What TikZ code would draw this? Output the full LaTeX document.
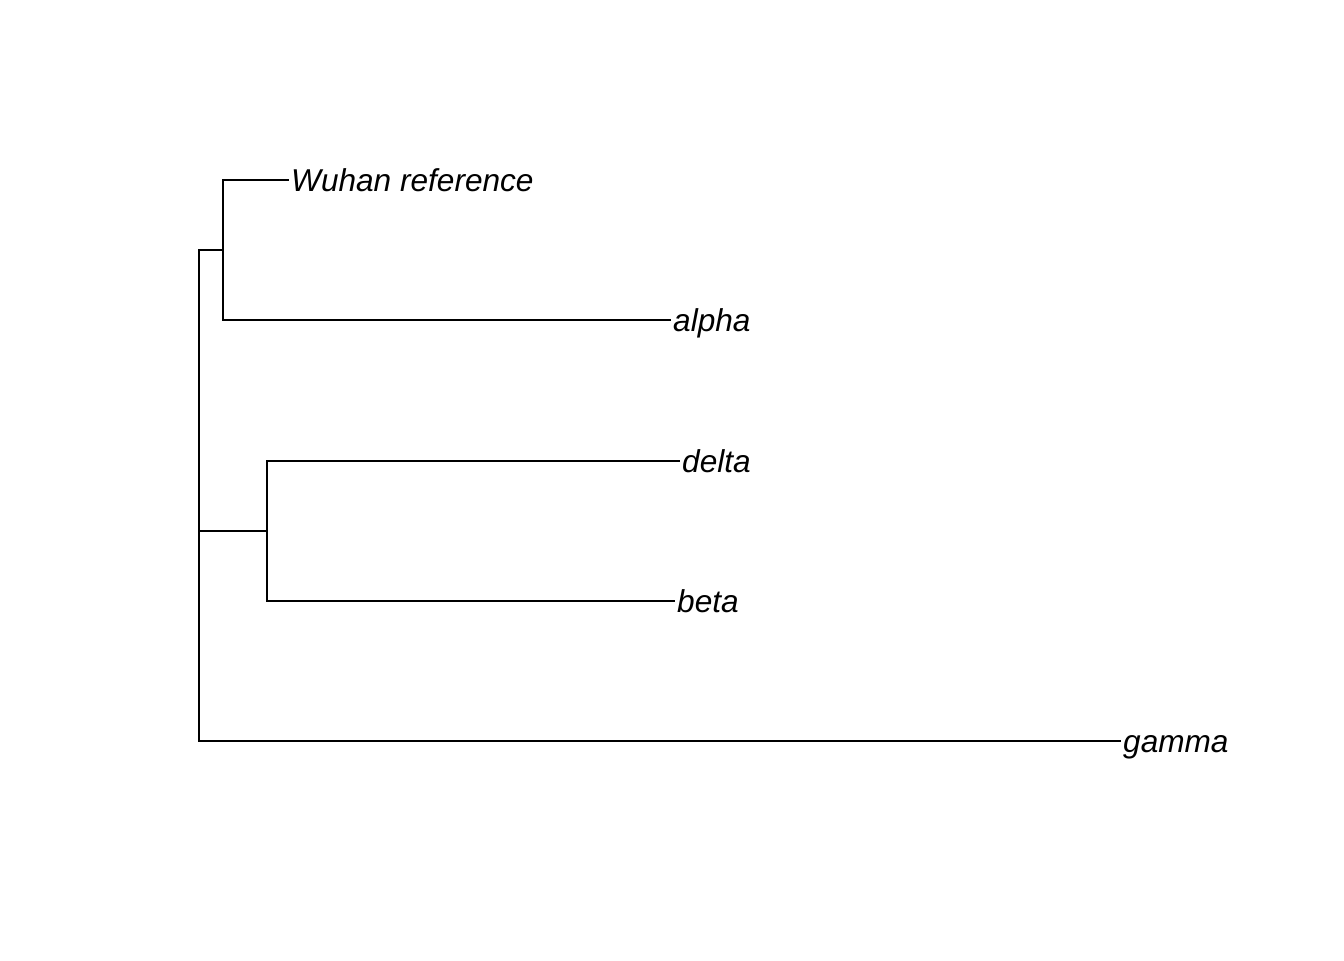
\documentclass[tikz,border=0pt]{standalone}
\usepackage{fontspec}
\setmainfont{Liberation Sans}
\begin{document}
\begin{tikzpicture}[x=0.5pt,y=-0.5pt,line width=1pt,
    tip/.style={anchor=base west,inner sep=0pt,xshift=0.6pt,yshift=-5.6pt,
        font=\itshape\fontsize{15.8}{19}\selectfont}]

    \useasboundingbox (0,0) rectangle (1344,960);

    % inner nodes
    \coordinate (root) at (199,531);
    \coordinate (wa) at (223,250);
    \coordinate (db) at (267,531);

    % tips
    \coordinate (wuhan) at (289,180);
    \coordinate (alpha) at (671,320);
    \coordinate (delta) at (680,461);
    \coordinate (beta) at (675,601);
    \coordinate (gamma) at (1121,741);

    % branches
    \draw (wa) |- (wuhan);
    \draw (wa) |- (alpha);
    \draw (db) |- (delta);
    \draw (db) |- (beta);
    \draw (wa) -| (root);
    \draw (db) -- (root);
    \draw (gamma) -| (root);

    % labels
    \node[tip] (wuhanlab) at (wuhan) {Wuhan reference};
    \node[tip] (alphalab) at (alpha) {alpha};
    \node[tip] (deltalab) at (delta) {delta};
    \node[tip] (betalab) at (beta) {beta};
    \node[tip] (gammalab) at (gamma) {gamma};

\end{tikzpicture}
\end{document}
